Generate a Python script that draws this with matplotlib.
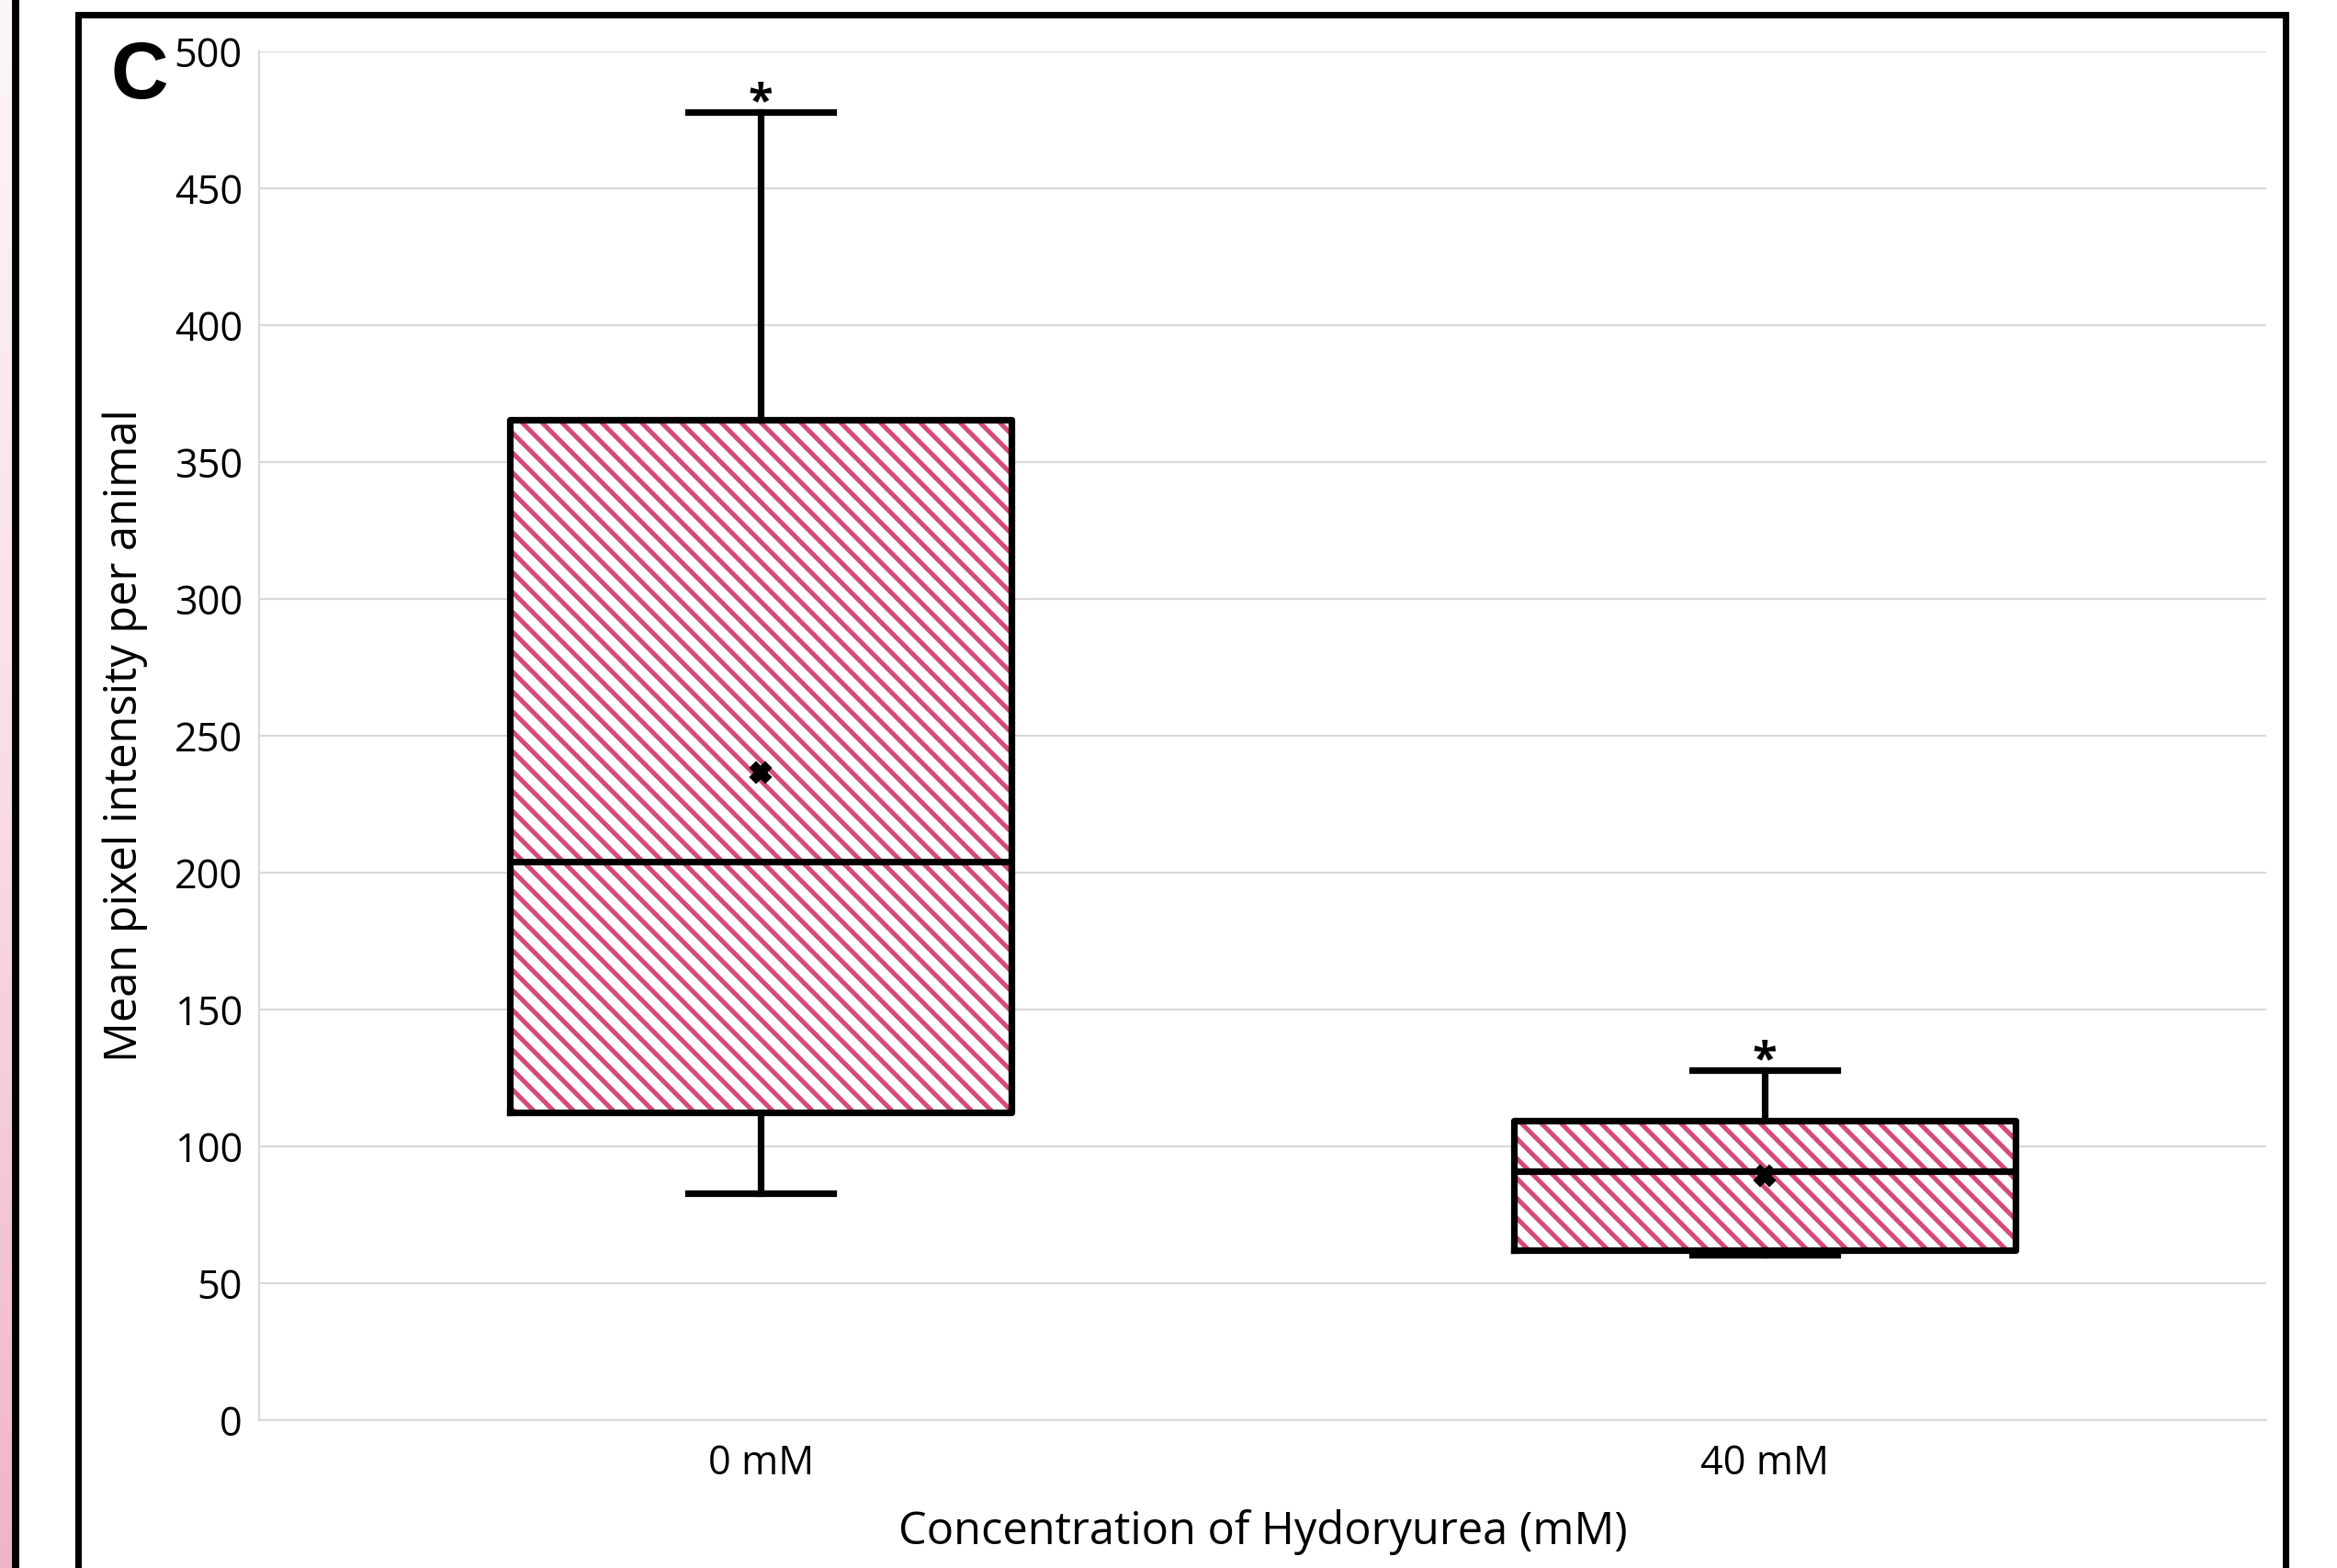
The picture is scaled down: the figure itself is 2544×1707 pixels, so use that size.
import numpy as np
import matplotlib
matplotlib.use('Agg')
import matplotlib.pyplot as plt
from matplotlib.lines import Line2D
from matplotlib.colors import LinearSegmentedColormap

# box statistics
groups = ['0 mM', '40 mM']
q1 = [112.5, 62.0]
med = [204.0, 90.8]
q3 = [365.5, 109.3]
whis_lo = [83.0, 60.5]
whis_hi = [477.8, 128.0]
means = [236.5, 89.3]
stars = ['*', '*']

plt.rcParams['font.family'] = ['Open Sans', 'DejaVu Sans']
plt.rcParams['hatch.linewidth'] = 1.4

pink = '#d64a7b'
grid_c = '#d9d9d9'

fig = plt.figure(figsize=(2544 / 260, 1707 / 260), dpi=260)
ax = fig.add_axes([282 / 2544, 1 - 1546 / 1707, (2467 - 282) / 2544, (1546 - 56) / 1707])

pos = np.arange(1, len(groups) + 1)

# hatched fill of the boxes
ax.bar(pos, np.array(q3) - np.array(q1), bottom=q1, width=0.5,
       color='white', edgecolor=pink, hatch='\\\\\\\\', linewidth=0, zorder=2)

stats = []
for i in range(len(groups)):
    stats.append(dict(med=med[i], q1=q1[i], q3=q3[i], whislo=whis_lo[i],
                      whishi=whis_hi[i], mean=means[i], fliers=[], label=groups[i]))

lw = 2.0
ax.bxp(stats, positions=pos, widths=0.5, capwidths=0.145, showmeans=True,
       showfliers=False, patch_artist=False,
       boxprops=dict(color='black', linewidth=lw, solid_joinstyle='round'),
       whiskerprops=dict(color='black', linewidth=lw),
       capprops=dict(color='black', linewidth=lw),
       medianprops=dict(color='black', linewidth=lw),
       meanprops=dict(marker='X', markerfacecolor='black', markeredgecolor='black',
                      markersize=5.5),
       zorder=3)

for p, hi, s in zip(pos, whis_hi, stars):
    ax.annotate(s, xy=(p, hi), xytext=(0, -1), textcoords='offset points',
                ha='center', va='baseline', fontsize=13.5, fontweight='bold',
                color='black')

ax.set_xlim(0.5, 2.5)
ax.set_ylim(0, 500)
ax.set_yticks(np.arange(0, 501, 50))
ax.set_xticks(pos)
ax.set_xticklabels(groups)
ax.tick_params(axis='both', length=0, labelsize=12, colors='black')
ax.tick_params(axis='y', pad=5)
ax.tick_params(axis='x', pad=7)
ax.grid(axis='y', color=grid_c, linewidth=0.6)
ax.set_axisbelow(True)
for sp in ['top', 'right']:
    ax.spines[sp].set_visible(False)
for sp in ['left', 'bottom']:
    ax.spines[sp].set_color(grid_c)
    ax.spines[sp].set_linewidth(0.6)

ax.set_ylabel('Mean pixel intensity per animal', fontsize=13.5)
ax.set_xlabel('Concentration of Hydoryurea (mM)', fontsize=13.5)
ax.yaxis.set_label_coords(-0.0668, 0.5)
ax.yaxis.label.set_va('center')
ax.xaxis.set_label_coords(0.5, -0.0819)
ax.xaxis.label.set_va('center')

fig.text(152 / 2544, 1 - 84 / 1707, 'C', fontsize=24, fontweight='bold',
         family='Liberation Sans', ha='center', va='center')

# outer panel frame (cut at bottom)
xl, xr, yt = 85 / 2544, 2487.5 / 2544, 1 - 15.5 / 1707
fig.add_artist(Line2D([xl, xl, xr, xr], [-0.01, yt, yt, -0.01], color='black',
                      linewidth=1.95, solid_joinstyle='miter', transform=fig.transFigure))

# neighbouring panel edge on the far left
strip = fig.add_axes([0, 0, 13 / 2544, 1])
grad = np.linspace(0, 1, 256).reshape(-1, 1)
cm = LinearSegmentedColormap.from_list('p', ['#fdf6f8', '#f8dde6', '#f0b4c8'])
strip.imshow(grad, aspect='auto', cmap=cm, extent=[0, 1, 0, 1], origin='upper')
strip.axis('off')
fig.add_artist(Line2D([17 / 2544, 17 / 2544], [0, 1], color='black', linewidth=2.2,
                      transform=fig.transFigure))

fig.savefig('out.png', dpi=260)
